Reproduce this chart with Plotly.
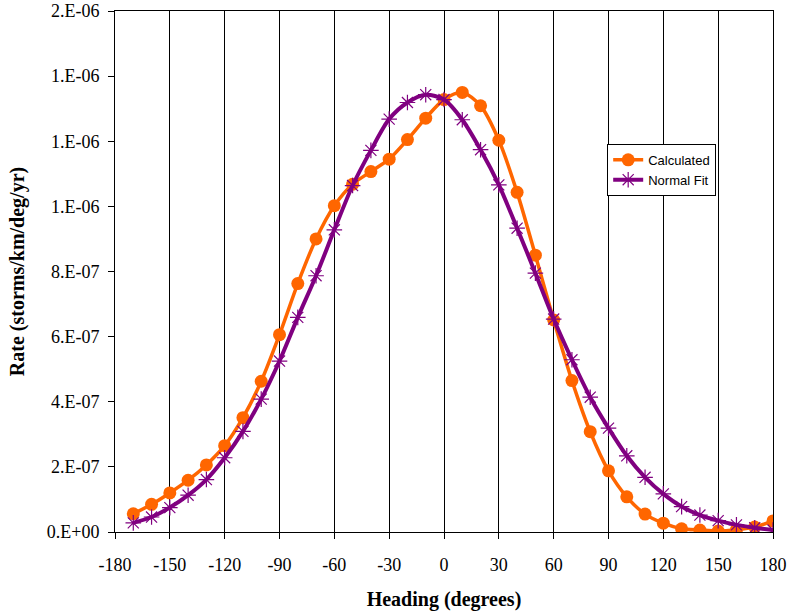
import plotly.graph_objects as go

heading = list(range(-170, 181, 10))
calculated = [5.6e-8, 8.5e-8, 1.2e-7, 1.59e-7, 2.06e-7, 2.65e-7, 3.51e-7, 4.63e-7, 6.06e-7,
              7.63e-7, 9.0e-7, 1.002e-6, 1.068e-6, 1.107e-6, 1.145e-6, 1.205e-6, 1.271e-6,
              1.328e-6, 1.350e-6, 1.309e-6, 1.203e-6, 1.043e-6, 8.5e-7, 6.51e-7, 4.65e-7,
              3.08e-7, 1.88e-7, 1.08e-7, 5.5e-8, 2.7e-8, 1.0e-8, 6e-9, 3e-9, 7e-9, 1.5e-8, 3.4e-8]
normal_fit = [2.8e-8, 4.6e-8, 7.5e-8, 1.13e-7, 1.61e-7, 2.28e-7, 3.09e-7, 4.08e-7, 5.25e-7,
              6.59e-7, 7.87e-7, 9.28e-7, 1.064e-6, 1.172e-6, 1.268e-6, 1.319e-6, 1.343e-6,
              1.328e-6, 1.266e-6, 1.174e-6, 1.066e-6, 9.33e-7, 7.95e-7, 6.54e-7, 5.29e-7,
              4.14e-7, 3.19e-7, 2.34e-7, 1.68e-7, 1.17e-7, 7.8e-8, 5.2e-8, 3.5e-8, 2.2e-8,
              1.3e-8, 6e-9]
x_ticks = list(range(-180, 181, 30))
y_ticks = [0, 2e-7, 4e-7, 6e-7, 8e-7, 1.0e-6, 1.2e-6, 1.4e-6, 1.6e-6]
y_tick_labels = ["0.E+00", "2.E-07", "4.E-07", "6.E-07", "8.E-07", "1.E-06", "1.E-06", "1.E-06", "2.E-06"]

ORANGE = "#FF6600"
PURPLE = "#800080"
serif = "Liberation Serif"

fig = go.Figure()
fig.add_trace(go.Scatter(
    x=heading, y=calculated, name="Calculated", mode="lines+markers",
    line=dict(color=ORANGE, width=3.5, shape="spline", smoothing=0.8),
    marker=dict(symbol="circle", size=13, color=ORANGE),
))
fig.add_trace(go.Scatter(
    x=heading, y=normal_fit, name="Normal Fit", mode="lines+markers",
    line=dict(color=PURPLE, width=4, shape="spline", smoothing=0.8),
    marker=dict(symbol="asterisk-open", size=13, color=PURPLE, line=dict(color=PURPLE, width=1.2)),
))

fig.update_layout(
    width=788, height=613,
    margin=dict(l=115, r=15, t=11, b=81),
    paper_bgcolor="white", plot_bgcolor="white",
    font=dict(family=serif, size=18, color="black"),
    legend=dict(
        x=0.748, y=0.745, xanchor="left", yanchor="top",
        bgcolor="white", bordercolor="black", borderwidth=1,
        font=dict(family="Liberation Sans", size=13),
        tracegroupgap=0, itemwidth=30,
    ),
    xaxis=dict(
        range=[-180, 180], tickvals=x_ticks, ticktext=[str(v) for v in x_ticks],
        showgrid=True, gridcolor="black", gridwidth=1,
        showline=True, linecolor="black", linewidth=1, mirror=True,
        ticks="outside", ticklen=6, tickcolor="black", zeroline=False, automargin=False,
        ticklabelstandoff=10,
        title=dict(text="<b>Heading (degrees)</b>", font=dict(family=serif, size=20), standoff=18),
    ),
    yaxis=dict(
        range=[0, 1.6e-6], tickvals=y_ticks, ticktext=y_tick_labels,
        showgrid=False, showline=True, linecolor="black", linewidth=1, mirror=True,
        ticks="outside", ticklen=6, tickcolor="black", zeroline=False, automargin=False,
        ticklabelstandoff=5,
        title=dict(text="<b>Rate (storms/km/deg/yr)</b>", font=dict(family=serif, size=20), standoff=16),
    ),
)

fig.write_html("out.html")
